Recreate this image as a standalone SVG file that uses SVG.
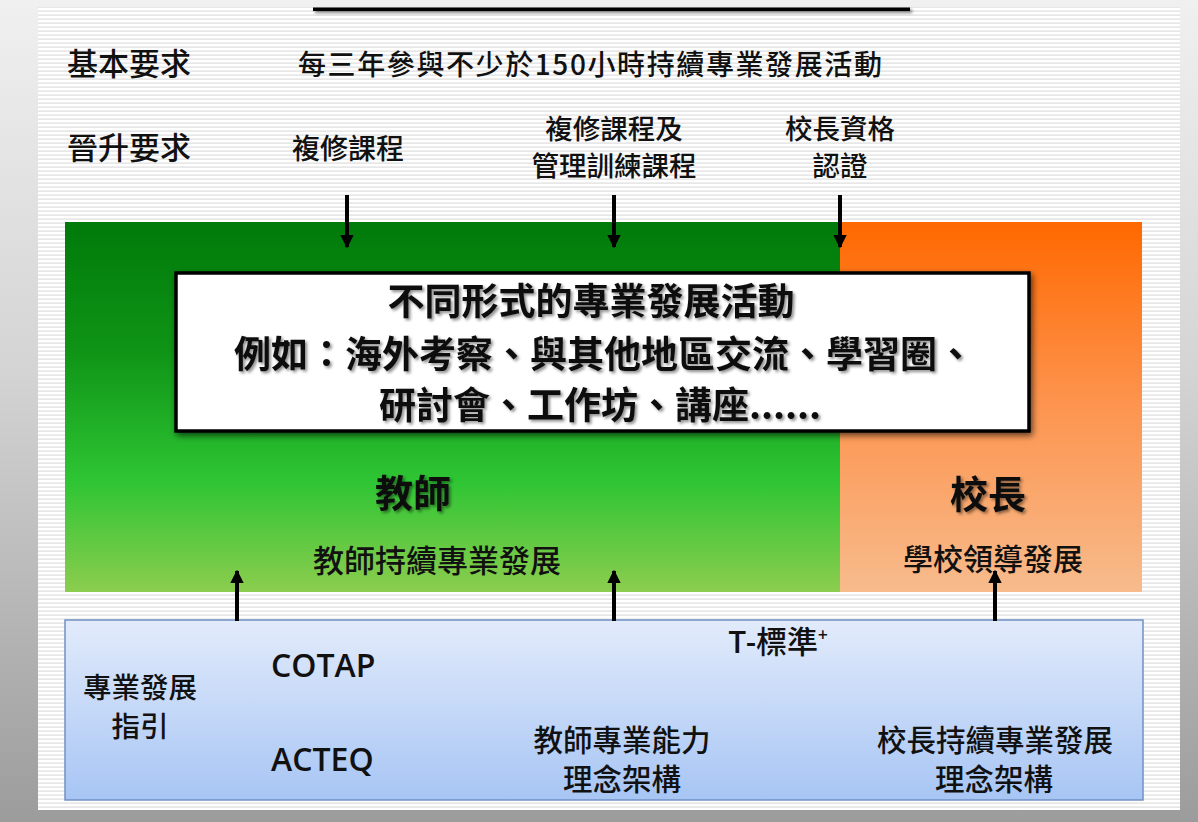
<svg xmlns="http://www.w3.org/2000/svg" width="1198" height="822" viewBox="0 0 1198 822">
<defs>
  <linearGradient id="bg" x1="0" y1="0" x2="0" y2="1">
    <stop offset="0" stop-color="#f0f0f0"/>
    <stop offset="0.45" stop-color="#d4d4d4"/>
    <stop offset="1" stop-color="#9c9c9c"/>
  </linearGradient>
  <pattern id="stripes" width="8" height="4" patternUnits="userSpaceOnUse">
    <rect width="8" height="4" fill="#ffffff"/>
    <rect y="2.5" width="8" height="1.2" fill="#dedede"/>
  </pattern>
  <linearGradient id="green" x1="0" y1="0" x2="0" y2="1">
    <stop offset="0" stop-color="#007a0a"/>
    <stop offset="0.35" stop-color="#0f9416"/>
    <stop offset="0.7" stop-color="#2ec534"/>
    <stop offset="1" stop-color="#8ccd4e"/>
  </linearGradient>
  <linearGradient id="orange" x1="0" y1="0" x2="0" y2="1">
    <stop offset="0" stop-color="#ff6800"/>
    <stop offset="0.5" stop-color="#fd9550"/>
    <stop offset="1" stop-color="#f7bb8c"/>
  </linearGradient>
  <linearGradient id="blue" x1="0" y1="0" x2="0" y2="1">
    <stop offset="0" stop-color="#e2ebfb"/>
    <stop offset="1" stop-color="#a7c5f4"/>
  </linearGradient>
  <filter id="boxShadow" x="-5%" y="-10%" width="110%" height="125%">
    <feDropShadow dx="2" dy="3" stdDeviation="3" flood-color="#000" flood-opacity="0.6"/>
  </filter>
  <filter id="txtShadow" x="-10%" y="-20%" width="120%" height="150%">
    <feDropShadow dx="2" dy="2" stdDeviation="1.5" flood-color="#000" flood-opacity="0.45"/>
  </filter>
  <filter id="lineShadow" x="-2%" y="-200%" width="104%" height="500%">
    <feDropShadow dx="2" dy="2" stdDeviation="1.5" flood-color="#000" flood-opacity="0.5"/>
  </filter>
  <marker id="ah" viewBox="0 0 10 10" refX="9" refY="5" markerWidth="3.4" markerHeight="3.4" orient="auto">
    <path d="M0,0 L10,5 L0,10 z" fill="#000"/>
  </marker>
</defs>
<style>
  .t { font-family: "Noto Sans CJK TC", "Noto Sans CJK SC", sans-serif; fill: #111; font-weight: 500; }
  .b { font-weight: 700; }
  .c { text-anchor: middle; }
  .lat { font-family: "Open Sans", "Noto Sans", sans-serif; font-weight: 600; fill: #111; }
  .arr { stroke: #000; stroke-width: 4; fill: none; marker-end: url(#ah); }
</style>

<rect width="1198" height="822" fill="url(#bg)"/>
<rect x="38" y="7" width="1142" height="803" fill="url(#stripes)"/>
<rect x="313" y="7.5" width="597" height="3.5" fill="#000" filter="url(#lineShadow)"/>

<g id="requirements">
  <text class="t" x="67" y="75" font-size="31">基本要求</text>
  <text class="t" x="298" y="75" font-size="28" letter-spacing="1.6">每三年參與不少於150小時持續專業發展活動</text>
  <text class="t" x="67" y="159" font-size="31">晉升要求</text>
  <text class="t c" x="348" y="159" font-size="28">複修課程</text>
  <text class="t c" x="614" y="139" font-size="27.5">複修課程及</text>
  <text class="t c" x="614" y="176" font-size="27.5">管理訓練課程</text>
  <text class="t c" x="840" y="139" font-size="27.5">校長資格</text>
  <text class="t c" x="840" y="176" font-size="27.5">認證</text>
</g>

<g id="teacher">
  <rect x="65" y="222" width="776" height="370" fill="url(#green)"/>
  <text class="t b c" x="413" y="507" font-size="38" filter="url(#txtShadow)">教師</text>
  <text class="t c" x="437" y="572" font-size="31">教師持續專業發展</text>
</g>

<g id="principal">
  <rect x="840" y="222" width="302" height="370" fill="url(#orange)"/>
  <text class="t b c" x="988" y="508" font-size="38" filter="url(#txtShadow)">校長</text>
  <text class="t c" x="993" y="570" font-size="30">學校領導發展</text>
</g>

<g id="activities">
  <rect x="176" y="273" width="853" height="158" fill="#fff" stroke="#000" stroke-width="3.5" filter="url(#boxShadow)"/>
  <g filter="url(#txtShadow)">
    <text class="t b c" x="591" y="315" font-size="37">不同形式的專業發展活動</text>
    <text class="t b c" x="604" y="368" font-size="37">例如：海外考察、與其他地區交流、學習圈、</text>
    <text class="t b c" x="600" y="419" font-size="37">研討會、工作坊、講座......</text>
  </g>
</g>

<g id="guidelines">
  <rect x="65" y="620" width="1078" height="180" fill="url(#blue)" stroke="#7191c4" stroke-width="1.5"/>
  <text class="t c" x="140" y="698" font-size="28.5">專業發展</text>
  <text class="t c" x="140" y="737" font-size="28.5">指引</text>
  <text class="lat" x="271" y="677" font-size="32">COTAP</text>
  <text class="lat" x="271" y="771" font-size="32">ACTEQ</text>
  <text class="t c" x="778" y="653" font-size="31"><tspan class="lat" font-size="31">T-</tspan>標準<tspan font-size="17" dy="-12">+</tspan></text>
  <text class="t c" x="622" y="751" font-size="29.5">教師專業能力</text>
  <text class="t c" x="622" y="790" font-size="29.5">理念架構</text>
  <text class="t c" x="995" y="751" font-size="29.5">校長持續專業發展</text>
  <text class="t c" x="994" y="790" font-size="29.5">理念架構</text>
</g>

<g id="connectors">
  <line class="arr" x1="347" y1="195" x2="347" y2="247"/>
  <line class="arr" x1="614" y1="195" x2="614" y2="247"/>
  <line class="arr" x1="840" y1="195" x2="840" y2="247"/>
  <line class="arr" x1="237" y1="621" x2="237" y2="571"/>
  <line class="arr" x1="614" y1="621" x2="614" y2="571"/>
  <line class="arr" x1="995" y1="621" x2="995" y2="571"/>
</g>
</svg>
